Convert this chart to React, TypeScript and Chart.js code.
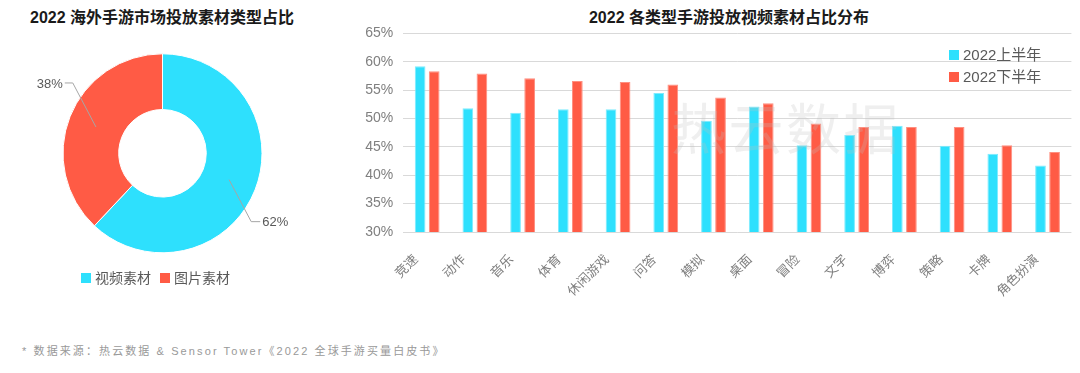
import React, { useEffect, useRef } from 'react';
import { Chart, registerables } from 'chart.js';

Chart.register(...registerables);

const FONT = '"Liberation Sans", "Noto Sans CJK SC", sans-serif';

// ---- Doughnut data ----
const pieLabels = ['视频素材', '图片素材'];
const pieValues = [62, 38];
const pieColors = ['#2EE0FD', '#FF5B45'];

// ---- Bar data ----
const categories = ['竞速', '动作', '音乐', '体育', '休闲游戏', '问答', '模拟', '桌面', '冒险', '文字', '博弈', '策略', '卡牌', '角色扮演'];
const firstHalf = [59.2, 51.8, 51.0, 51.6, 51.6, 54.5, 49.6, 52.1, 45.3, 47.1, 48.7, 45.2, 43.8, 41.7];
const secondHalf = [58.3, 57.9, 57.1, 56.6, 56.4, 56.0, 53.7, 52.7, 49.1, 48.5, 48.5, 48.5, 45.3, 44.1];
const seriesNames = ['2022上半年', '2022下半年'];
const seriesColors = ['#2EE0FD', '#FF5B45'];
const seriesBorders = ['#7DEBFE', '#FF8F80'];
const yMin = 30;
const yMax = 65;
const yStep = 5;

const leftTitle = '2022 海外手游市场投放素材类型占比';
const rightTitle = '2022 各类型手游投放视频素材占比分布';
const footnote = '* 数据来源：热云数据 & Sensor Tower《2022 全球手游买量白皮书》';
const watermark = '热云数据';

const pieLabelPlugin = {
  id: 'pieOuterLabels',
  afterDatasetsDraw(chart: any) {
    const ctx = chart.ctx;
    const meta = chart.getDatasetMeta(0);
    const data = chart.data.datasets[0].data;
    ctx.save();
    ctx.font = `13px ${FONT}`;
    meta.data.forEach((arc: any, i: number) => {
      const p = arc.getProps(['x', 'y', 'startAngle', 'endAngle', 'innerRadius', 'outerRadius'], true);
      const mid = (p.startAngle + p.endAngle) / 2;
      const rm = (p.innerRadius + p.outerRadius) / 2;
      const sx = p.x + rm * Math.cos(mid);
      const sy = p.y + rm * Math.sin(mid);
      const la = mid + Math.PI / 18;
      const lr = p.outerRadius * 1.33;
      const lx = p.x + lr * Math.cos(la);
      const ly = p.y + lr * Math.sin(la);
      const text = data[i] + '%';
      const w = ctx.measureText(text).width;
      const right = Math.cos(la) >= 0;
      const ex = right ? lx - w / 2 - 11 : lx + w / 2 + 10;
      const hx = right ? lx - w / 2 - 2 : lx + w / 2 + 2;
      ctx.strokeStyle = '#a6a6a6';
      ctx.lineWidth = 1;
      ctx.beginPath();
      ctx.moveTo(sx, sy);
      ctx.lineTo(ex, ly - 1);
      ctx.lineTo(hx, ly - 1);
      ctx.stroke();
      ctx.fillStyle = '#595959';
      ctx.textAlign = 'center';
      ctx.textBaseline = 'middle';
      ctx.fillText(text, lx, ly);
    });
    ctx.restore();
  },
};

export default function App() {
  const pieRef = useRef<HTMLCanvasElement>(null);
  const barRef = useRef<HTMLCanvasElement>(null);

  useEffect(() => {
    Chart.defaults.font.family = FONT;
    const pie = new Chart(pieRef.current as HTMLCanvasElement, {
      type: 'doughnut',
      data: {
        labels: pieLabels,
        datasets: [
          {
            data: pieValues,
            backgroundColor: pieColors,
            borderColor: '#ffffff',
            borderWidth: 1,
          },
        ],
      },
      options: {
        responsive: false,
        animation: false,
        cutout: '44%',
        layout: { padding: { left: 62.5, right: 62.5, top: 23.3, bottom: 26.7 } },
        plugins: { legend: { display: false }, tooltip: { enabled: false }, title: { display: false } },
      },
      plugins: [pieLabelPlugin],
    } as any);

    const bar = new Chart(barRef.current as HTMLCanvasElement, {
      type: 'bar',
      data: {
        labels: categories,
        datasets: [
          {
            label: seriesNames[0],
            data: firstHalf,
            backgroundColor: seriesColors[0],
            borderColor: seriesBorders[0],
            borderWidth: 1,
            categoryPercentage: 0.59,
            barPercentage: 0.76,
          },
          {
            label: seriesNames[1],
            data: secondHalf,
            backgroundColor: seriesColors[1],
            borderColor: seriesBorders[1],
            borderWidth: 1,
            categoryPercentage: 0.59,
            barPercentage: 0.76,
          },
        ],
      },
      options: {
        responsive: false,
        animation: false,
        layout: { padding: { top: 33.3, right: 8.6, left: 0, bottom: 0 } },
        plugins: { legend: { display: false }, tooltip: { enabled: false }, title: { display: false } },
        scales: {
          x: {
            grid: { display: false, drawTicks: false },
            border: { display: false },
            ticks: {
              autoSkip: false,
              minRotation: 45,
              maxRotation: 45,
              padding: 20,
              labelOffset: -11,
              color: '#7f7f7f',
              font: { size: 13, family: FONT },
            },
            afterFit: (scale: any) => {
              scale.height = 98;
            },
          },
          y: {
            min: yMin,
            max: yMax,
            grid: { color: '#d9d9d9', lineWidth: 1, drawTicks: false },
            border: { display: false },
            ticks: {
              stepSize: yStep,
              padding: 10,
              color: '#7f7f7f',
              font: { size: 14, family: FONT },
              callback: (v: any) => v + '%',
            },
            afterFit: (scale: any) => {
              scale.width = 63.3;
            },
          },
        },
      },
    } as any);

    return () => {
      pie.destroy();
      bar.destroy();
    };
  }, []);

  return (
    <div
      style={{
        position: 'fixed',
        left: 0,
        top: 0,
        width: 1080,
        height: 373,
        background: '#ffffff',
        fontFamily: FONT,
        overflow: 'hidden',
      }}
    >
      <div
        style={{
          position: 'absolute',
          left: 30,
          top: 8,
          fontSize: 16,
          fontWeight: 700,
          lineHeight: '20px',
          color: '#1a1a1a',
          whiteSpace: 'nowrap',
        }}
      >
        {leftTitle}
      </div>
      <canvas
        ref={pieRef}
        width={325}
        height={250}
        style={{ position: 'absolute', left: 0, top: 30, width: 325, height: 250 }}
      />
      <div style={{ position: 'absolute', left: 81, top: 268, display: 'flex', gap: 9, alignItems: 'center' }}>
        {pieLabels.map((l, i) => (
          <div key={l} style={{ display: 'flex', alignItems: 'center' }}>
            <span style={{ width: 10, height: 10, background: pieColors[i], marginRight: 4, display: 'inline-block' }} />
            <span style={{ fontSize: 14, lineHeight: '20px', color: '#595959' }}>{l}</span>
          </div>
        ))}
      </div>

      <div
        style={{
          position: 'absolute',
          left: 529,
          width: 400,
          top: 8,
          textAlign: 'center',
          fontSize: 16,
          fontWeight: 700,
          lineHeight: '20px',
          color: '#1a1a1a',
          whiteSpace: 'nowrap',
        }}
      >
        {rightTitle}
      </div>
      <canvas
        ref={barRef}
        width={740}
        height={330}
        style={{ position: 'absolute', left: 340, top: 0, width: 740, height: 330 }}
      />
      <div
        style={{
          position: 'absolute',
          left: 671,
          top: 92,
          fontSize: 55,
          letterSpacing: 2.5,
          lineHeight: '66px',
          color: 'rgba(190,190,190,0.25)',
          fontFamily: '"Noto Sans CJK SC", sans-serif',
          whiteSpace: 'nowrap',
          pointerEvents: 'none',
        }}
      >
        {watermark}
      </div>
      <div style={{ position: 'absolute', left: 949, top: 44 }}>
        {seriesNames.map((n, i) => (
          <div key={n} style={{ display: 'flex', alignItems: 'center', height: 22 }}>
            <span style={{ width: 10, height: 10, background: seriesColors[i], marginRight: 4, display: 'inline-block' }} />
            <span style={{ fontSize: 15, lineHeight: '22px', color: '#595959' }}>{n}</span>
          </div>
        ))}
      </div>

      <div
        style={{
          position: 'absolute',
          left: 22,
          top: 343,
          fontSize: 11,
          letterSpacing: 2.1,
          lineHeight: '16px',
          color: '#999999',
          whiteSpace: 'nowrap',
        }}
      >
        {footnote}
      </div>
    </div>
  );
}
